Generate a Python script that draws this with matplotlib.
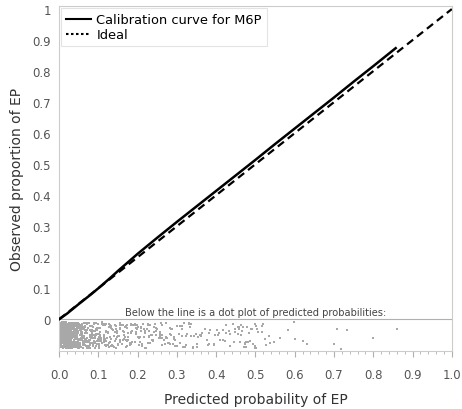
import matplotlib.pyplot as plt
from matplotlib.lines import Line2D
import numpy as np

plt.rcParams['font.family'] = 'DejaVu Sans'

# calibration curve
cal_x = [0.0, 0.02, 0.05, 0.08, 0.10, 0.13, 0.15, 0.17, 0.20, 0.25, 0.30, 0.35,
         0.40, 0.45, 0.50, 0.55, 0.60, 0.65, 0.70, 0.75, 0.80, 0.857]
cal_y = [0.0, 0.018, 0.049, 0.079, 0.100, 0.133, 0.156, 0.178, 0.211, 0.263, 0.314, 0.364,
         0.414, 0.464, 0.514, 0.565, 0.615, 0.665, 0.715, 0.766, 0.816, 0.874]

ideal = [0.0, 1.0]

# dot plot of predicted probabilities: counts per 0.01 bin
bin_left = np.arange(0, 0.55, 0.01)
bin_count = [160, 150, 130, 105, 75, 45, 36, 30, 26, 22,
             19, 17, 15, 14, 13, 12, 11, 10, 10, 9,
             8, 8, 8, 7, 7, 7, 6, 6, 6, 6,
             5, 5, 5, 4, 4, 4, 3, 3, 3, 3,
             3, 3, 3, 3, 4, 5, 6, 6, 6, 5,
             4, 3, 2, 2, 1]
# the few isolated ones to the right
sparse_x = [0.562, 0.583, 0.597, 0.60, 0.62, 0.632, 0.70, 0.707, 0.717, 0.733, 0.80, 0.86]
sparse_y = [-0.06, -0.035, -0.008, -0.065, -0.07, -0.08, -0.08, -0.03, -0.095, -0.035, -0.06, -0.03]

fig = plt.figure(figsize=(4.62, 4.10), dpi=100)
ax = fig.add_axes([0.128, 0.141, 0.85, 0.842])

ax.plot(ideal, ideal, color='black', lw=1.6, ls=(0, (3.5, 2.2)), zorder=3)
ax.plot(cal_x, cal_y, color='black', lw=1.8, zorder=4)

# spread dots inside each bin, vertical jitter in the strip below 0 (hash, not random)
def frac_hash(n, a):
    v = np.sin(n * a) * 43758.5453
    return v - np.floor(v)

dx, dy = [], []
i = 0
for left, n in zip(bin_left, bin_count):
    for k in range(n):
        i += 1
        dx.append(left + 0.01 * frac_hash(i, 12.9898))
        dy.append(-0.01 - 0.083 * frac_hash(i, 78.233))
dx += sparse_x
dy += sparse_y
ax.scatter(dx, dy, s=2.2, marker='s', color='#a8a8a8', linewidths=0, zorder=2)

ax.axhline(0, color='#b0b0b0', lw=0.8, zorder=1)
ax.text(0.5, 0.008, 'Below the line is a dot plot of predicted probabilities:',
        fontsize=7.1, color='#444444', ha='center', va='bottom')

ax.set_xlim(0, 1.0)
ax.set_ylim(-0.103, 1.01)
ax.set_xticks(np.arange(0, 1.01, 0.1))
ax.set_xticklabels(['%.1f' % v for v in np.arange(0, 1.01, 0.1)])
ax.set_xticks(np.arange(0, 1.001, 0.02), minor=True)
ax.set_yticks(np.arange(0, 1.01, 0.1))
ax.set_yticklabels(['0', '0.1', '0.2', '0.3', '0.4', '0.5', '0.6', '0.7', '0.8', '0.9', '1'])
ax.tick_params(axis='x', which='major', length=4, color='#b0b0b0', labelsize=8.5,
               labelcolor='#555555', pad=8)
ax.tick_params(axis='x', which='minor', length=2, color='#b0b0b0')
ax.tick_params(axis='y', length=0, labelsize=8.5, labelcolor='#555555', pad=6)
for s in ax.spines.values():
    s.set_color('#cccccc')
    s.set_linewidth(0.8)

ax.set_xlabel('Predicted probability of EP', fontsize=10, color='#333333', labelpad=8)
ax.set_ylabel('Observed proportion of EP', fontsize=10, color='#333333', labelpad=6)

handles = [Line2D([], [], color='black', lw=1.5),
           Line2D([], [], color='black', lw=1.5, ls=(0, (1.2, 1.2)))]
leg = ax.legend(handles, ['Calibration curve for M6P', 'Ideal'], loc='upper left',
                fontsize=9.4, frameon=True, fancybox=False, borderpad=0.4,
                handlelength=1.9, handletextpad=0.4, labelspacing=0.15,
                borderaxespad=0.15)
leg.get_frame().set_edgecolor('#dddddd')
leg.get_frame().set_linewidth(0.8)

fig.savefig('out.png', dpi=100)
